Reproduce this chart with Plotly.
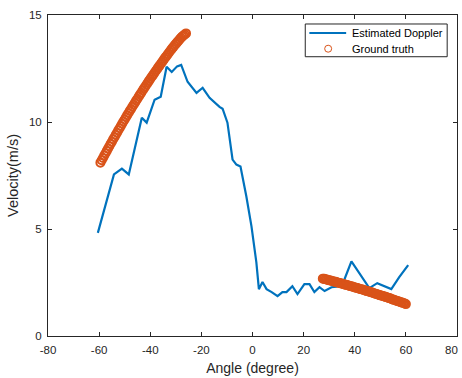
import plotly.graph_objects as go

# Estimated Doppler (blue line)
est_angle = [-60.5, -54.2, -51.1, -48.4, -43.3, -41.4, -38.3, -35.9, -33.6, -31.6,
             -29.5, -27.9, -25.4, -21.9, -19.5, -16.8, -12.9, -11.7, -9.8, -7.8,
             -6.3, -4.7, -2.4, -0.4, 1.5, 2.5, 3.9, 5.5, 7.5, 9.8,
             11.7, 13.3, 15.6, 17.6, 20.3, 22.3, 24.2, 26.2, 28.2, 30.9,
             32.8, 35.5, 38.7, 45.7, 48.8, 54.3, 57.4, 60.9]
est_vel = [4.82, 7.55, 7.82, 7.55, 10.20, 9.97, 11.04, 11.18, 12.58, 12.34,
           12.60, 12.67, 11.88, 11.36, 11.60, 11.13, 10.71, 10.62, 9.97, 8.24,
           8.01, 7.92, 6.52, 5.12, 3.45, 2.19, 2.52, 2.19, 2.05, 1.86,
           2.05, 2.05, 2.33, 1.96, 2.42, 2.42, 2.05, 2.28, 2.10, 2.28,
           2.30, 2.50, 3.49, 2.24, 2.47, 2.19, 2.75, 3.31]

# Ground truth, left segment
gt_left_angle = [-59.5, -59.0, -58.5, -58.0, -57.5, -57.0, -56.5, -56.0, -55.5, -55.0,
                 -54.5, -54.0, -53.5, -53.0, -52.5, -52.0, -51.5, -51.0, -50.5, -50.0,
                 -49.5, -49.0, -48.5, -48.0, -47.5, -47.0, -46.5, -46.0, -45.5, -45.0,
                 -44.5, -44.0, -43.5, -43.0, -42.5, -42.0, -41.5, -41.0, -40.5, -40.0,
                 -39.5, -39.0, -38.5, -38.0, -37.5, -37.0, -36.5, -36.0, -35.5, -35.0,
                 -34.5, -34.0, -33.5, -33.0, -32.5, -32.0, -31.5, -31.0, -30.5, -30.0,
                 -29.5, -29.0, -28.5, -28.0, -27.5, -27.0, -26.5, -26.0]
gt_left_vel = [8.10, 8.21, 8.32, 8.43, 8.54, 8.65, 8.76, 8.87, 8.98, 9.08,
               9.19, 9.29, 9.40, 9.50, 9.61, 9.71, 9.81, 9.92, 10.02, 10.12,
               10.22, 10.32, 10.42, 10.52, 10.61, 10.71, 10.81, 10.90, 11.00, 11.09,
               11.19, 11.28, 11.37, 11.47, 11.56, 11.65, 11.74, 11.83, 11.92, 12.01,
               12.10, 12.18, 12.27, 12.36, 12.44, 12.53, 12.61, 12.70, 12.78, 12.86,
               12.95, 13.03, 13.11, 13.19, 13.27, 13.35, 13.43, 13.50, 13.58, 13.65,
               13.72, 13.79, 13.86, 13.94, 13.99, 14.04, 14.09, 14.14]

# Ground truth, right segment
gt_right_angle = [27.5, 28.0, 28.5, 29.0, 29.5, 30.0, 30.5, 31.0, 31.5, 32.0,
                  32.5, 33.0, 33.5, 34.0, 34.5, 35.0, 35.5, 36.0, 36.5, 37.0,
                  37.5, 38.0, 38.5, 39.0, 39.5, 40.0, 40.5, 41.0, 41.5, 42.0,
                  42.5, 43.0, 43.5, 44.0, 44.5, 45.0, 45.5, 46.0, 46.5, 47.0,
                  47.5, 48.0, 48.5, 49.0, 49.5, 50.0, 50.5, 51.0, 51.5, 52.0,
                  52.5, 53.0, 53.5, 54.0, 54.5, 55.0, 55.5, 56.0, 56.5, 57.0,
                  57.5, 58.0, 58.5, 59.0, 59.5, 60.0]
gt_right_vel = [2.68, 2.67, 2.65, 2.64, 2.62, 2.60, 2.59, 2.57, 2.56, 2.54,
                2.53, 2.51, 2.49, 2.48, 2.46, 2.44, 2.43, 2.41, 2.39, 2.38,
                2.36, 2.34, 2.33, 2.31, 2.29, 2.27, 2.26, 2.24, 2.22, 2.20,
                2.19, 2.17, 2.15, 2.13, 2.11, 2.09, 2.08, 2.06, 2.04, 2.02,
                2.00, 1.98, 1.96, 1.94, 1.92, 1.90, 1.88, 1.87, 1.85, 1.83,
                1.81, 1.79, 1.77, 1.75, 1.72, 1.70, 1.68, 1.66, 1.64, 1.62,
                1.60, 1.58, 1.56, 1.54, 1.52, 1.49]

x_ticks = [-80, -60, -40, -20, 0, 20, 40, 60, 80]
y_ticks = [0, 5, 10, 15]
legend_labels = ["Estimated Doppler", "Ground truth"]

BLUE = "#0072BD"
ORANGE = "#D95319"
AX = "#262626"
FONT = "Liberation Sans, Arial"

fig = go.Figure()
fig.add_trace(go.Scatter(
    x=est_angle, y=est_vel, mode="lines", name=legend_labels[0],
    line=dict(color=BLUE, width=2.2), showlegend=False,
))
fig.add_trace(go.Scatter(
    x=gt_left_angle + [None] + gt_right_angle,
    y=gt_left_vel + [None] + gt_right_vel,
    mode="markers", name=legend_labels[1], showlegend=False,
    marker=dict(symbol="circle-open", size=8, color=ORANGE,
                line=dict(width=2, color=ORANGE)),
))

axis_common = dict(
    showline=True, linecolor=AX, linewidth=1, mirror="ticks",
    ticks="inside", ticklen=4, tickcolor=AX, tickwidth=1,
    showgrid=False, zeroline=False,
    tickfont=dict(family=FONT, size=11.5, color=AX),
)

# last x tick label drawn as annotation, pulled inside the page edge
x_ticktext = [str(t) for t in x_ticks[:-1]] + [""]

fig.update_layout(
    width=462, height=378,
    margin=dict(l=48, r=4, t=15, b=40),
    paper_bgcolor="white", plot_bgcolor="white",
    font=dict(family=FONT, color=AX),
    xaxis=dict(range=[-80, 80], tickvals=x_ticks, ticktext=x_ticktext,
               ticklabelstandoff=3,
               title=dict(text="Angle (degree)", font=dict(size=14, color=AX), standoff=8),
               **axis_common),
    yaxis=dict(range=[0, 15], tickvals=y_ticks, ticktext=[str(t) for t in y_ticks],
               ticklabelstandoff=3,
               title=dict(text="Velocity(m/s)", font=dict(size=14.5, color=AX), standoff=6),
               **axis_common),
    showlegend=False,
)

fig.add_annotation(x=1.0, y=0, xref="paper", yref="paper", text=str(x_ticks[-1]),
                   showarrow=False, xanchor="right", yanchor="top", yshift=-6, xshift=3,
                   font=dict(family=FONT, size=11.5, color=AX))

# legend box (drawn in paper coordinates)
lx0, lx1, ly0, ly1 = 0.629, 0.976, 0.870, 0.972
fig.add_shape(type="rect", xref="paper", yref="paper", x0=lx0, x1=lx1, y0=ly0, y1=ly1,
              line=dict(color=AX, width=1), fillcolor="white", layer="above")
fig.add_shape(type="line", xref="paper", yref="paper", x0=0.639, x1=0.729, y0=0.944, y1=0.944,
              line=dict(color=BLUE, width=2.2), layer="above")
fig.add_shape(type="circle", xref="paper", yref="paper", xsizemode="pixel", ysizemode="pixel",
              xanchor=0.685, yanchor=0.895, x0=-3.5, x1=3.5, y0=-3.5, y1=3.5,
              line=dict(color=ORANGE, width=1), layer="above")
for label, yy in zip(legend_labels, [0.944, 0.895]):
    fig.add_annotation(x=0.739, y=yy, xref="paper", yref="paper", text=label,
                       showarrow=False, xanchor="left", yanchor="middle",
                       font=dict(family=FONT, size=11, color="black"))

fig.write_html("out.html")
